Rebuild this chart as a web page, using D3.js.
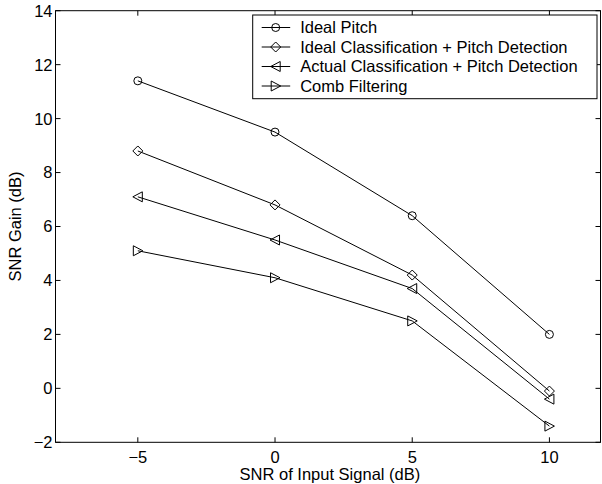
<!DOCTYPE html>
<html>
<head>
<meta charset="utf-8">
<script src="https://cdn.jsdelivr.net/npm/d3@7"></script>
<style>
  html, body { margin: 0; padding: 0; background: #fff; }
  #chart { width: 602px; height: 484px; }
  svg text { font-family: "Liberation Sans", Arial, Helvetica, sans-serif; fill: #000; }
</style>
</head>
<body>
<div id="chart"></div>
<script>
// data
const snrInput = [-5, 0, 5, 10];
const idealPitch = [11.4, 9.5, 6.4, 2.0];
const idealClass = [8.8, 6.8, 4.2, -0.1];
const actualClass = [7.1, 5.5, 3.7, -0.4];
const combFilter = [5.1, 4.1, 2.5, -1.4];
const seriesNames = [
  'Ideal Pitch',
  'Ideal Classification + Pitch Detection',
  'Actual Classification + Pitch Detection',
  'Comb Filtering'
];
const xTicks = [-5, 0, 5, 10];
const yTicks = [-2, 0, 2, 4, 6, 8, 10, 12, 14];

const series = [
  { name: seriesNames[0], values: idealPitch, marker: 'circle' },
  { name: seriesNames[1], values: idealClass, marker: 'diamond' },
  { name: seriesNames[2], values: actualClass, marker: 'left' },
  { name: seriesNames[3], values: combFilter, marker: 'right' }
];

class LineChart {
  constructor(node) {
    this.container = d3.select(node);
    this.width = 602;
    this.height = 484;
    this.margin = { left: 55.5, top: 10.7, right: 1.5, bottom: 41.7 };
    this.tickLen = 5;
    this.fontSize = 16.5;
    this.setupUtils();
  }

  setupUtils() {
    this.x = d3.scaleLinear().domain([-8, 12])
      .range([this.margin.left, 604.3]);
    this.y = d3.scaleLinear().domain([-2, 14])
      .range([this.height - this.margin.bottom, this.margin.top]);
  }

  // marker path centred on 0,0
  markerPath(type) {
    const p = d3.path();
    if (type === 'circle') {
      p.arc(0, 0, 4, 0, Math.PI * 2);
    } else if (type === 'diamond') {
      p.moveTo(0, -5); p.lineTo(5, 0); p.lineTo(0, 5); p.lineTo(-5, 0); p.closePath();
    } else if (type === 'left') {
      p.moveTo(-5, 0); p.lineTo(4.5, -5); p.lineTo(4.5, 5); p.closePath();
    } else {
      p.moveTo(5, 0); p.lineTo(-4.5, -5); p.lineTo(-4.5, 5); p.closePath();
    }
    return p.toString();
  }

  drawGraph() {
    const x = this.x, y = this.y;
    const left = x.range()[0];
    const right = Math.min(x.range()[1], this.width - this.margin.right);
    const top = y.range()[1];
    const bottom = y.range()[0];
    const t = this.tickLen;

    this.svg = this.container.append('svg')
      .attr('width', this.width)
      .attr('height', this.height);

    const axes = this.svg.append('g').attr('class', 'axes')
      .attr('stroke', '#000').attr('stroke-width', 1).attr('fill', 'none');

    axes.append('rect')
      .attr('x', left).attr('y', top)
      .attr('width', right - left).attr('height', bottom - top);

    // ticks on all four sides, pointing inwards
    xTicks.forEach((v) => {
      axes.append('line').attr('x1', x(v)).attr('x2', x(v)).attr('y1', bottom).attr('y2', bottom - t);
      axes.append('line').attr('x1', x(v)).attr('x2', x(v)).attr('y1', top).attr('y2', top + t);
    });
    yTicks.forEach((v) => {
      axes.append('line').attr('x1', left).attr('x2', left + t).attr('y1', y(v)).attr('y2', y(v));
      axes.append('line').attr('x1', right).attr('x2', right - t).attr('y1', y(v)).attr('y2', y(v));
    });

    const fmt = d3.format('d');
    this.svg.append('g').selectAll('text')
      .data(xTicks).enter().append('text')
      .attr('x', (d) => x(d))
      .attr('y', bottom + 21)
      .attr('text-anchor', 'middle')
      .attr('font-size', this.fontSize)
      .text((d) => fmt(d));

    this.svg.append('g').selectAll('text')
      .data(yTicks).enter().append('text')
      .attr('x', left - 3)
      .attr('y', (d) => y(d))
      .attr('dy', '0.36em')
      .attr('text-anchor', 'end')
      .attr('font-size', this.fontSize)
      .text((d) => fmt(d));

    this.svg.append('text')
      .attr('x', (left + 604.3) / 2)
      .attr('y', bottom + 38)
      .attr('text-anchor', 'middle')
      .attr('font-size', this.fontSize)
      .text('SNR of Input Signal (dB)');

    this.svg.append('text')
      .attr('transform', `translate(21,${(top + bottom) / 2}) rotate(-90)`)
      .attr('text-anchor', 'middle')
      .attr('font-size', this.fontSize)
      .text('SNR Gain (dB)');

    const line = d3.line()
      .x((d, i) => x(snrInput[i]))
      .y((d) => y(d));

    const plots = this.svg.append('g').attr('class', 'plots');
    series.forEach((s) => {
      plots.append('path')
        .attr('d', line(s.values))
        .attr('fill', 'none').attr('stroke', '#000').attr('stroke-width', 1);
      plots.selectAll(null).data(s.values).enter().append('path')
        .attr('transform', (d, i) => `translate(${x(snrInput[i])},${y(d)})`)
        .attr('d', this.markerPath(s.marker))
        .attr('fill', 'none').attr('stroke', '#000').attr('stroke-width', 1);
    });

    this.drawLegend(right);
  }

  drawLegend(right) {
    const box = { x: 252.7, y: 15, w: right - 3.5 - 252.7, h: 83.7 };
    const rowH = 19.5;
    const lg = this.svg.append('g').attr('class', 'legend');
    lg.append('rect')
      .attr('x', box.x).attr('y', box.y).attr('width', box.w).attr('height', box.h)
      .attr('fill', '#fff').attr('stroke', '#000').attr('stroke-width', 1);

    series.forEach((s, i) => {
      const cy = box.y + 12.5 + i * rowH;
      lg.append('line')
        .attr('x1', box.x + 9).attr('x2', box.x + 37.5)
        .attr('y1', cy).attr('y2', cy)
        .attr('stroke', '#000').attr('stroke-width', 1);
      lg.append('path')
        .attr('transform', `translate(${box.x + 23},${cy})`)
        .attr('d', this.markerPath(s.marker))
        .attr('fill', 'none').attr('stroke', '#000').attr('stroke-width', 1);
      lg.append('text')
        .attr('x', box.x + 47.5).attr('y', cy)
        .attr('dy', '0.36em')
        .attr('font-size', this.fontSize)
        .text(s.name);
    });
  }
}

const chart = new LineChart(document.getElementById('chart'));
chart.drawGraph();
</script>
</body>
</html>
